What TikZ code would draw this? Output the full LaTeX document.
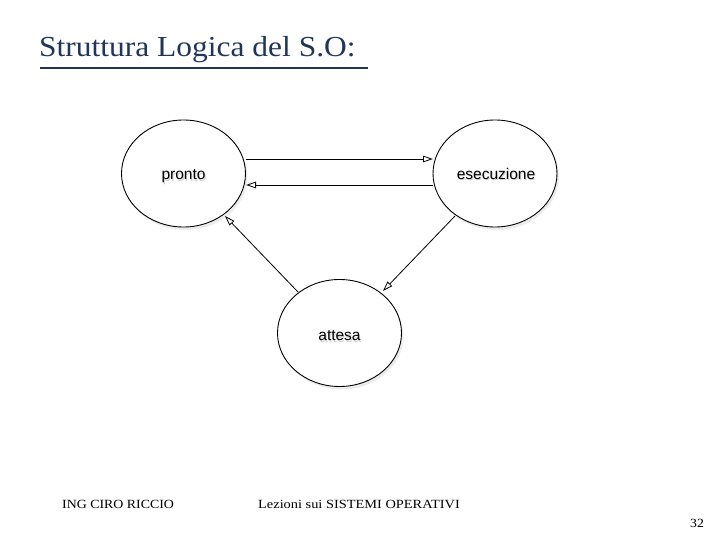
\documentclass[tikz,border=0pt]{standalone}
\usepackage{fontspec}
\setmainfont{Liberation Serif}
\newfontfamily\labfont{Liberation Sans}
\usetikzlibrary{arrows.meta,shadows,shapes.geometric}
\definecolor{titleblue}{HTML}{1F3656}
\tikzset{
  state/.style={draw, line width=0.9pt, ellipse, fill=white, minimum width=124pt, minimum height=107pt, inner sep=0pt,
    drop shadow={shadow xshift=2pt, shadow yshift=-3pt, opacity=0.15, fill=gray}},
  statelab/.style={font=\labfont\fontsize{15.5}{18}\selectfont, anchor=base, inner sep=0pt},
  labshadow/.style={statelab, text=gray, opacity=0.35},
  conn/.style={line width=0.8pt, -{Triangle[open, length=10pt, width=6.5pt]}},
  foot/.style={font=\fontsize{12.5}{15}\selectfont, anchor=base west, inner sep=0pt}
}
\begin{document}
\begin{tikzpicture}[x=1pt, y=-1pt]
\useasboundingbox (0,0) rectangle (720,540);
\node[anchor=base west, inner sep=0pt, text=titleblue, font=\fontsize{29}{34}\selectfont] (title) at (39,57) {\scalebox{1.085}[1]{Struttura Logica del S.O:}};
\draw[titleblue, line width=1.6pt] (40,68) coordinate (u1) -- (368,68) coordinate (u2);

\node[state] (pronto) at (183.5,173.5) {};
\node[state] (esec) at (495,173.5) {};
\node[state] (attesa) at (339.5,333) {};
\node[labshadow] (sp) at (184.5,181.5) {pronto};
\node[labshadow] (se) at (497,181) {esecuzione};
\node[labshadow] (sa) at (340.5,342) {attesa};
\node[statelab] (lp) at (183.5,180) {pronto};
\node[statelab] (le) at (496,179.5) {esecuzione};
\node[statelab] (la) at (339.5,340.5) {attesa};

\coordinate (a1) at (245.5,159);
\coordinate (b1) at (433,159);
\coordinate (a2) at (433,185);
\coordinate (b2) at (246,185);
\draw[conn] (a1) -- (b1);
\draw[conn] (a2) -- (b2);
\coordinate (c1) at (298,292);
\coordinate (d1) at (225,216);
\coordinate (c2) at (455,216);
\coordinate (d2) at (383,291);
\draw[conn] (c1) -- (d1);
\draw[conn] (c2) -- (d2);

\node[foot] (f1) at (62,508) {\scalebox{1.11}[1]{ING CIRO RICCIO}};
\node[foot] (f2) at (258,508) {\scalebox{1.15}[1]{Lezioni sui SISTEMI OPERATIVI}};
\node[foot] (f3) at (690,527) {\scalebox{1.1}[1]{32}};
\end{tikzpicture}
\end{document}
